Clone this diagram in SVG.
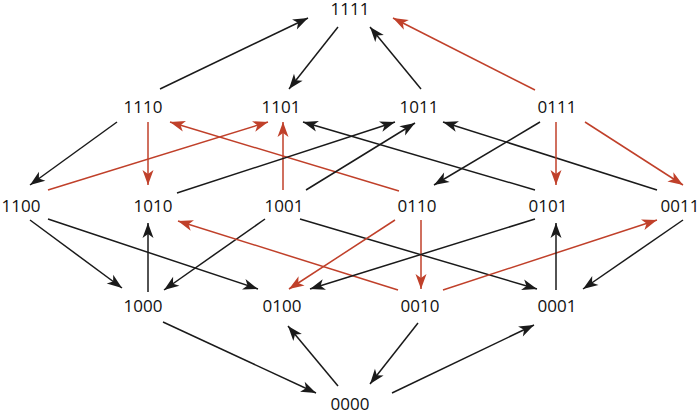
<svg xmlns="http://www.w3.org/2000/svg" width="700" height="414" viewBox="0 0 700 414">
<style>
.lbl{font-family:"Open Sans","Liberation Sans",sans-serif;font-size:17px;fill:#111;text-anchor:middle}
.k{stroke:#1a1a1a;stroke-width:1.5;fill:none;marker-end:url(#ak)}
.r{stroke:#c0402a;stroke-width:1.5;fill:none;marker-end:url(#ar)}
</style>
<defs>
<marker id="ak" markerUnits="userSpaceOnUse" viewBox="-16 -7 17 14" refX="0" refY="0" markerWidth="17" markerHeight="14" orient="auto"><path d="M0,0 L-15,-5.5 L-11,0 L-15,5.5 Z" fill="#1a1a1a"/></marker>
<marker id="ar" markerUnits="userSpaceOnUse" viewBox="-16 -7 17 14" refX="0" refY="0" markerWidth="17" markerHeight="14" orient="auto"><path d="M0,0 L-15,-5.5 L-11,0 L-15,5.5 Z" fill="#c0402a"/></marker>
</defs>
<rect width="700" height="414" fill="#fff"/>
<g id="connectors">
<line class="k" x1="160" y1="89" x2="308" y2="18"/>
<line class="k" x1="338" y1="27" x2="289" y2="89"/>
<line class="k" x1="421" y1="89" x2="370" y2="27"/>
<line class="r" x1="535" y1="90" x2="393" y2="18"/>
<line class="k" x1="117" y1="122" x2="30" y2="185"/>
<line class="r" x1="148" y1="122" x2="148" y2="185"/>
<line class="r" x1="399" y1="191" x2="170" y2="122"/>
<line class="r" x1="48" y1="190" x2="268" y2="122"/>
<line class="r" x1="283" y1="190" x2="283" y2="122"/>
<line class="k" x1="535" y1="190" x2="303" y2="122"/>
<line class="k" x1="177" y1="193" x2="395" y2="122"/>
<line class="k" x1="306" y1="190" x2="415" y2="123"/>
<line class="k" x1="657" y1="190" x2="443" y2="122"/>
<line class="k" x1="540" y1="122" x2="434" y2="185"/>
<line class="r" x1="556" y1="122" x2="556" y2="185"/>
<line class="r" x1="585" y1="122" x2="683" y2="185"/>
<line class="k" x1="30" y1="220" x2="122" y2="288"/>
<line class="k" x1="48" y1="219" x2="258" y2="289"/>
<line class="k" x1="148" y1="292" x2="148" y2="223"/>
<line class="k" x1="265" y1="219" x2="164" y2="290"/>
<line class="r" x1="398" y1="290" x2="178" y2="221"/>
<line class="k" x1="300" y1="219" x2="537" y2="289"/>
<line class="r" x1="395" y1="220" x2="289" y2="289"/>
<line class="r" x1="421" y1="220" x2="421" y2="289"/>
<line class="k" x1="535" y1="219" x2="310" y2="289"/>
<line class="r" x1="443" y1="290" x2="657" y2="220"/>
<line class="k" x1="556" y1="290" x2="556" y2="223"/>
<line class="k" x1="683" y1="220" x2="583" y2="289"/>
<line class="k" x1="163" y1="322" x2="316" y2="393"/>
<line class="k" x1="338" y1="386" x2="288" y2="326"/>
<line class="k" x1="418" y1="323" x2="370" y2="384"/>
<line class="k" x1="392" y1="393" x2="534" y2="325"/>
</g>
<g id="n1111"><text class="lbl" x="350" y="14.5">1111</text></g>
<g id="n1110"><text class="lbl" x="143" y="113">1110</text></g>
<g id="n1101"><text class="lbl" x="281" y="113">1101</text></g>
<g id="n1011"><text class="lbl" x="419" y="113">1011</text></g>
<g id="n0111"><text class="lbl" x="557" y="113">0111</text></g>
<g id="n1100"><text class="lbl" x="21" y="212">1100</text></g>
<g id="n1010"><text class="lbl" x="153" y="212">1010</text></g>
<g id="n1001"><text class="lbl" x="284" y="212">1001</text></g>
<g id="n0110"><text class="lbl" x="417" y="212">0110</text></g>
<g id="n0101"><text class="lbl" x="548" y="212">0101</text></g>
<g id="n0011"><text class="lbl" x="680" y="212">0011</text></g>
<g id="n1000"><text class="lbl" x="143" y="312">1000</text></g>
<g id="n0100"><text class="lbl" x="282" y="312">0100</text></g>
<g id="n0010"><text class="lbl" x="420" y="312">0010</text></g>
<g id="n0001"><text class="lbl" x="557" y="312">0001</text></g>
<g id="n0000"><text class="lbl" x="350" y="410">0000</text></g>
</svg>
